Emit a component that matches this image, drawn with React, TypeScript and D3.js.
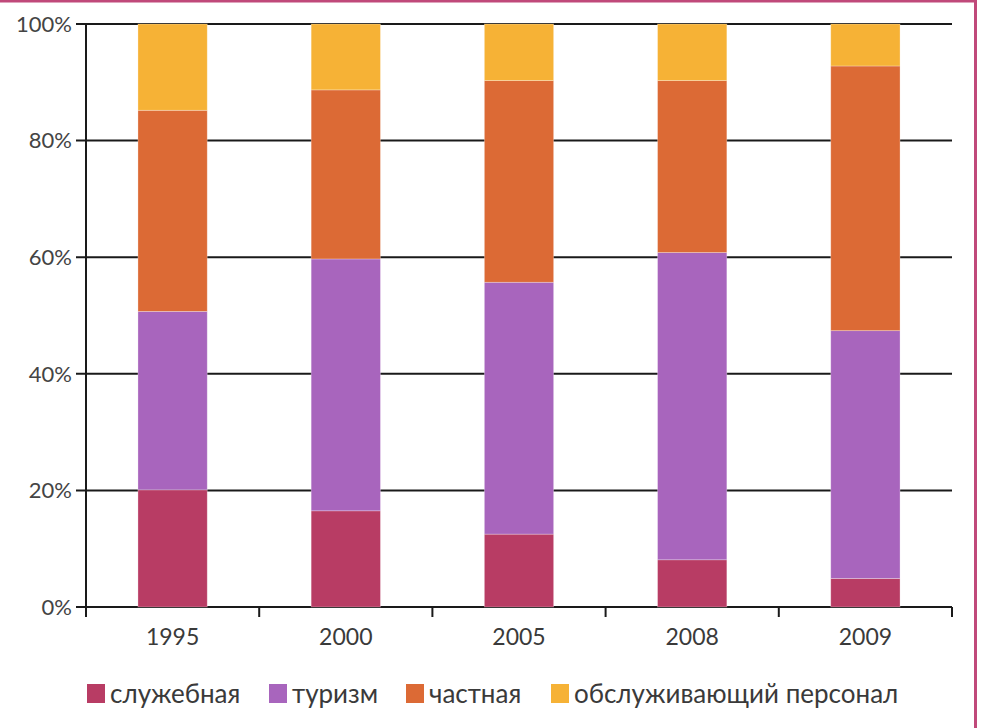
import React, { useEffect, useRef } from 'react';
import * as d3 from 'd3';

const years = ['1995', '2000', '2005', '2008', '2009'];
const seriesNames = ['служебная', 'туризм', 'частная', 'обслуживающий персонал'];
const sluzhebnaya = [20.1, 16.5, 12.5, 8.1, 4.9];
const turizm = [30.6, 43.2, 43.2, 52.7, 42.5];
const chastnaya = [34.5, 29.0, 34.6, 29.5, 45.4];
const personal = [14.8, 11.3, 9.7, 9.7, 7.2];
const yTicks = [0, 20, 40, 60, 80, 100];
const colors = ['#b83c64', '#a865bd', '#dc6a35', '#f6b236'];

const W = 981;
const H = 728;
const margin = { left: 86, right: 29, top: 24, bottom: 121 };

const App = () => {
  const svgRef = useRef<SVGSVGElement>(null);

  useEffect(() => {
    const svg = d3.select(svgRef.current);
    svg.selectAll('*').remove();

    const rows = years.map((y, i) => ({
      year: y,
      [seriesNames[0]]: sluzhebnaya[i],
      [seriesNames[1]]: turizm[i],
      [seriesNames[2]]: chastnaya[i],
      [seriesNames[3]]: personal[i],
    }));
    const stacked = d3.stack().keys(seriesNames)(rows as any);

    const x = d3.scaleBand().domain(years).range([margin.left, W - margin.right]).padding(0);
    const y = d3.scaleLinear().domain([0, 100]).range([H - margin.bottom, margin.top]);
    const barW = x.bandwidth() * 0.4;

    const font = 'Lato, sans-serif';

    // border
    svg.append('line').attr('x1', 0).attr('x2', 977).attr('y1', 1).attr('y2', 1)
      .attr('stroke', '#c0497a').attr('stroke-width', 3);
    svg.append('line').attr('x1', 975.5).attr('x2', 975.5).attr('y1', 0).attr('y2', H)
      .attr('stroke', '#c0497a').attr('stroke-width', 3);

    // gridlines
    svg.append('g').selectAll('line').data(yTicks).enter().append('line')
      .attr('x1', margin.left - 10).attr('x2', W - margin.right)
      .attr('y1', d => y(d)).attr('y2', d => y(d))
      .attr('stroke', '#1a1a1a').attr('stroke-width', 2);

    svg.append('g').selectAll('text').data(yTicks).enter().append('text')
      .attr('x', 72).attr('y', d => y(d)).attr('dy', '0.35em')
      .attr('text-anchor', 'end').attr('font-family', font).attr('font-size', 22)
      .attr('fill', '#444').text(d => d + '%');

    // bars
    svg.append('g').selectAll('g').data(stacked).enter().append('g')
      .attr('fill', (d, i) => colors[i])
      .selectAll('rect').data(d => d).enter().append('rect')
      .attr('x', (d: any) => (x(d.data.year) as number) + (x.bandwidth() - barW) / 2)
      .attr('width', barW)
      .attr('y', d => y(d[1]))
      .attr('height', d => y(d[0]) - y(d[1]))
      .attr('stroke', '#ffffff').attr('stroke-opacity', 0.35).attr('stroke-width', 0.8);

    // axes
    svg.append('line').attr('x1', margin.left).attr('x2', margin.left)
      .attr('y1', y(100)).attr('y2', y(0) + 10)
      .attr('stroke', '#1a1a1a').attr('stroke-width', 2);
    const bounds = years.map(yr => x(yr) as number).concat([W - margin.right]);
    svg.append('g').selectAll('line').data(bounds).enter().append('line')
      .attr('x1', d => d).attr('x2', d => d).attr('y1', y(0)).attr('y2', y(0) + 10)
      .attr('stroke', '#1a1a1a').attr('stroke-width', 2);

    svg.append('g').selectAll('text').data(years).enter().append('text')
      .attr('x', d => (x(d) as number) + x.bandwidth() / 2).attr('y', 645)
      .attr('text-anchor', 'middle').attr('font-family', font).attr('font-size', 23)
      .attr('fill', '#3a3a3a').text(d => d);

    // legend
    const legendX = [87, 269, 406, 551];
    const lg = svg.append('g').selectAll('g').data(seriesNames).enter().append('g')
      .attr('transform', (d, i) => `translate(${legendX[i]},684)`);
    lg.append('rect').attr('width', 18).attr('height', 19).attr('fill', (d, i) => colors[i]);
    lg.append('text').attr('x', 23).attr('y', 19)
      .attr('font-family', font).attr('font-size', 26).attr('fill', '#3a3a3a').text(d => d);
  }, []);

  return (
    <svg ref={svgRef} width={W} height={H}
      style={{ position: 'absolute', left: 0, top: 0, background: '#fff' }} />
  );
};

export default App;
